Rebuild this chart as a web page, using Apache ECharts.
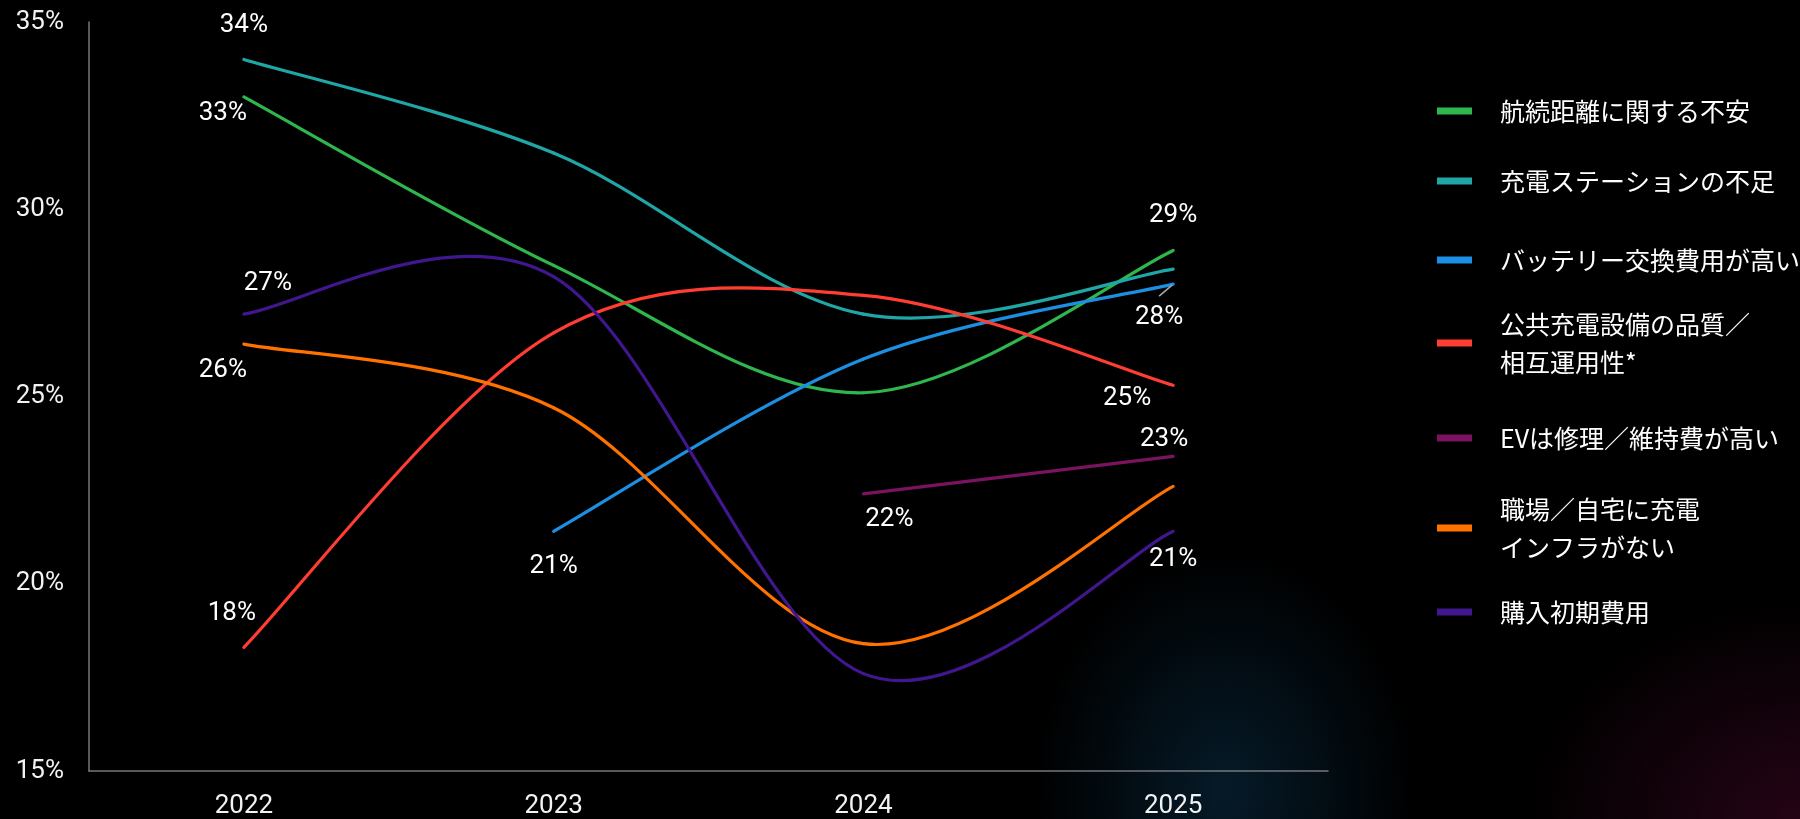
<!DOCTYPE html>
<html>
<head>
<meta charset="utf-8">
<script src="https://cdn.jsdelivr.net/npm/echarts/dist/echarts.min.js"></script>
<style>
html,body{margin:0;padding:0;background:#000;}
#chart{width:1800px;height:819px;
background:
 radial-gradient(ellipse 190px 240px at 1225px 790px, rgba(10,48,74,0.55), rgba(0,0,0,0) 100%),
 radial-gradient(ellipse 280px 220px at 1800px 819px, rgba(72,8,42,0.5), rgba(0,0,0,0) 100%),
 #000;}
</style>
</head>
<body>
<div id="chart"></div>
<script>
// ---- data ----
const years = ['2022', '2023', '2024', '2025'];
const yTicks = [15, 20, 25, 30, 35];
const seriesNames = [
  '航続距離に関する不安',
  '充電ステーションの不足',
  'バッテリー交換費用が高い',
  '公共充電設備の品質／\n相互運用性*',
  'EVは修理／維持費が高い',
  '職場／自宅に充電\nインフラがない',
  '購入初期費用'
];
const rangeAnxiety     = [33.0, 28.5, 25.1, 28.9];
const chargingStations = [34.0, 31.5, 27.2, 28.4];
const batteryCost      = [null, 21.4, 26.0, 28.0];
const publicQuality    = [18.3, 26.7, 27.7, 25.3];
const repairCost       = [null, null, 22.4, 23.4];
const homeWorkInfra    = [26.4, 24.7, 18.4, 22.6];
const upfrontCost      = [27.2, 28.2, 17.6, 21.4];

// ---- styling / layout (not data) ----
const colors = ['#2fb74e', '#20a6a6', '#1d8fe3', '#ff3d33', '#7b1360', '#ff7200', '#40178f'];
// label offsets (px) for points that carry a value label
const labelOffsets = [
  [[-21, 17], null, null, [0, -35]],
  [[0, -34], null, null, null],
  [null, [0, 35], null, [-14, 33]],
  [[-12, -34], null, null, [-46, 13]],
  [null, null, [26, 26], [-9, -17]],
  [[-21, 26], null, null, null],
  [[24, -31], null, null, [0, 28]]
];
const allValues = [rangeAnxiety, chargingStations, batteryCost, publicQuality, repairCost, homeWorkInfra, upfrontCost];
const legendCenters = [111, 181, 260, 343, 438, 528, 612];

const numFont = 'Roboto, "Noto Sans", sans-serif';
const jpFont = '"Noto Sans CJK JP", "Noto Sans", sans-serif';

// smooth (Catmull-Rom style) curve drawn through the library's coordinate system
function makeRenderer(si) {
  const vals = allValues[si];
  return function (params, api) {
    const i = params.dataIndex;
    const pt = k => (k >= 0 && k < vals.length && vals[k] !== null) ? api.coord([k, vals[k]]) : null;
    const children = [];
    const p1 = pt(i), p2 = pt(i + 1);
    if (p1 && p2) {
      const p0 = pt(i - 1) || p1;
      const p3 = pt(i + 2) || p2;
      children.push({
        type: 'bezierCurve',
        shape: {
          x1: p1[0], y1: p1[1], x2: p2[0], y2: p2[1],
          cpx1: p1[0] + (p2[0] - p0[0]) / 6, cpy1: p1[1] + (p2[1] - p0[1]) / 6,
          cpx2: p2[0] - (p3[0] - p1[0]) / 6, cpy2: p2[1] - (p3[1] - p1[1]) / 6
        },
        style: { stroke: colors[si], lineWidth: 3.2, fill: null, lineCap: 'round' }
      });
    }
    const off = labelOffsets[si][i];
    if (p1 && off) {
      children.push({
        type: 'text', z2: 100,
        x: p1[0] + off[0], y: p1[1] + off[1],
        style: {
          text: Math.round(vals[i]) + '%', fill: '#ffffff',
          font: '26px ' + numFont, align: 'center', verticalAlign: 'middle'
        }
      });
    }
    return { type: 'group', children: children };
  };
}

const series = allValues.map((vals, si) => ({
  name: seriesNames[si],
  type: 'custom',
  coordinateSystem: 'cartesian2d',
  renderItem: makeRenderer(si),
  itemStyle: { color: colors[si] },
  emphasis: { disabled: true },
  silent: true,
  encode: { x: 0, y: 1 },
  data: vals.map((v, i) => [i, v === null ? '-' : v])
}));

const legends = seriesNames.map((n, i) => {
  const multi = n.indexOf('\n') >= 0;
  const h = multi ? 2 * 38 + 19 : 38;
  return {
    data: [n],
    orient: 'vertical',
    left: 1437,
    top: legendCenters[i] - h / 2,
    padding: 0,
    icon: 'rect',
    itemWidth: 35,
    itemHeight: 7,
    selectedMode: false,
    itemStyle: { color: colors[i] },
    textStyle: {
      color: '#ffffff', fontFamily: jpFont, fontSize: 25, lineHeight: 38,
      padding: multi ? [19, 0, 0, 23] : [0, 0, 0, 23]
    }
  };
});

const chart = echarts.init(document.getElementById('chart'), null, { renderer: 'canvas' });
chart.setOption({
  backgroundColor: 'transparent',
  animation: false,
  grid: { left: 89, right: 472, top: 22, bottom: 48, containLabel: false },
  legend: legends,
  xAxis: {
    type: 'category',
    data: years,
    boundaryGap: true,
    axisLine: { show: true, lineStyle: { color: '#76767e', width: 1.5 } },
    axisTick: { show: false },
    axisLabel: { color: '#f2f2f2', fontFamily: numFont, fontSize: 26, margin: 22 },
    splitLine: { show: false }
  },
  yAxis: {
    type: 'value',
    min: yTicks[0],
    max: yTicks[yTicks.length - 1],
    interval: yTicks[1] - yTicks[0],
    axisLine: { show: true, lineStyle: { color: '#76767e', width: 1.5 } },
    axisTick: { show: false },
    splitLine: { show: false },
    axisLabel: { color: '#f2f2f2', fontFamily: numFont, fontSize: 26, margin: 25, formatter: '{value}%' }
  },
  series: series
});

// small leader line for the 28% label of the battery series
const p = chart.convertToPixel({ xAxisIndex: 0, yAxisIndex: 0 }, [3, batteryCost[3]]);
chart.setOption({
  graphic: [{
    type: 'line', z: 10,
    shape: { x1: p[0] - 1, y1: p[1] + 1, x2: p[0] - 14, y2: p[1] + 12 },
    style: { stroke: '#a6a6b8', lineWidth: 1.5 }
  }]
});
</script>
</body>
</html>
